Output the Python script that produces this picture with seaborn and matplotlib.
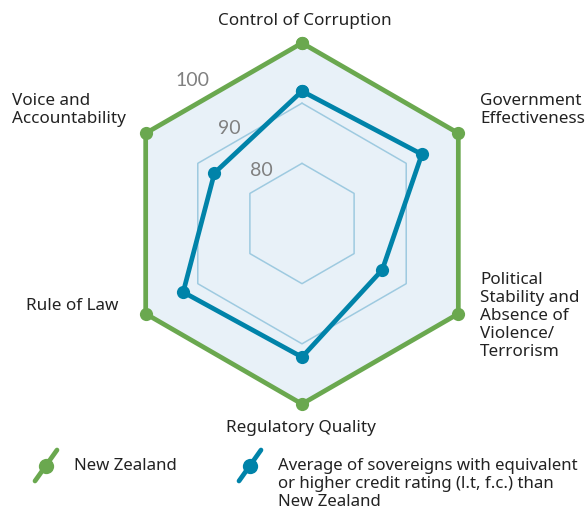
import numpy as np
import pandas as pd
import matplotlib
matplotlib.use("Agg")
import matplotlib.pyplot as plt
import seaborn as sns
from matplotlib.lines import Line2D

# ---- data ----
categories = ["Control of Corruption", "Government\nEffectiveness",
              "Political\nStability and\nAbsence of\nViolence/\nTerrorism",
              "Regulatory Quality", "Rule of Law", "Voice and\nAccountability"]
series_names = ["New Zealand",
                "Average of sovereigns with equivalent\nor higher credit rating (l.t, f.c.) than\nNew Zealand"]
nz_values = [100, 100, 100, 100, 100, 100]
peer_values = [92.0, 93.0, 85.4, 92.2, 92.8, 86.8]
r_ticks = [80, 90, 100]
r_tick_labels = ["80", "90", "100"]
r_min = 70

GREEN = "#6aa84f"
BLUE = "#0083a9"
FILL = "#e8f1f8"
GRID = "#9ecae0"
TEXT = "#222222"

sns.set_theme(style="white")
plt.rcParams["font.family"] = ["Noto Sans", "DejaVu Sans"]

W, H = 587, 513
fig = plt.figure(figsize=(W / 100, H / 100), dpi=100)
cx, cy, R = 302, 223.5, 180.5
ax = fig.add_axes([(cx - R) / W, (H - cy - R) / H, 2 * R / W, 2 * R / H],
                  projection="polar")
ax.set_theta_zero_location("N")
ax.set_theta_direction(-1)

n = len(categories)
theta = np.arange(n) * 2 * np.pi / n
theta_closed = np.append(theta, 2 * np.pi)

# background hexagon (100) and grid hexagons
ax.fill(theta_closed, [r_ticks[-1]] * (n + 1), color=FILL, zorder=0)
for rt in r_ticks[:-1]:
    ax.plot(theta_closed, [rt] * (n + 1), color=GRID, lw=1.1, zorder=1)

rows = []
for name, vals in zip(series_names, [nz_values, peer_values]):
    closed = list(vals) + [vals[0]]
    for i, (t, v) in enumerate(zip(theta_closed, closed)):
        rows.append({"series": name, "theta": t, "value": v, "order": i})
df = pd.DataFrame(rows)

sns.lineplot(data=df, x="theta", y="value", hue="series", sort=False,
             estimator=None, palette=[GREEN, BLUE], marker="o",
             markersize=9.5, markeredgewidth=0, linewidth=3.4, ax=ax,
             legend=False, zorder=3)
for ln in ax.lines:
    ln.set_clip_on(False)

ax.set_ylim(r_min, 100)
ax.grid(False)
ax.spines["polar"].set_visible(False)
ax.set_xticks([])
ax.set_yticks([])
ax.set_xlabel("")
ax.set_ylabel("")
ax.patch.set_alpha(0)

# radial tick labels along the upper-left direction
lab_theta = np.deg2rad(-37.5)
lab_shift = [1.1, -0.1, -0.1]
for rt, lab, sh in zip(r_ticks, r_tick_labels, lab_shift):
    ax.text(lab_theta, rt + sh, lab, ha="center", va="center",
            fontsize=14, color="#808080", family="Lato")


def px(x, y):
    return x / W, 1 - y / H


fs = 12.3
fig.text(*px(305, 21), categories[0], ha="center", va="center", fontsize=fs, color=TEXT)
fig.text(*px(480, 93), categories[1], ha="left", va="top", fontsize=fs, color=TEXT, linespacing=1.17)
fig.text(*px(480, 272), categories[2], ha="left", va="top", fontsize=fs, color=TEXT, linespacing=1.17)
fig.text(*px(301, 428), categories[3], ha="center", va="center", fontsize=fs, color=TEXT)
fig.text(*px(118, 306), categories[4], ha="right", va="center", fontsize=fs, color=TEXT)
fig.text(*px(12, 93), categories[5], ha="left", va="top", fontsize=fs, color=TEXT, linespacing=1.17)

# legend (manual, diagonal handles)
lfs = 12.1
for (hx, tx), name, col in zip([(46, 74), (250, 278)], series_names, [GREEN, BLUE]):
    x0, y0 = px(hx - 11, 481)
    x1, y1 = px(hx + 11, 450)
    fig.add_artist(Line2D([x0, x1], [y0, y1], transform=fig.transFigure,
                          color=col, lw=3.4, solid_capstyle="round"))
    mx, my = px(hx, 465.5)
    fig.add_artist(Line2D([mx], [my], transform=fig.transFigure, color=col,
                          marker="o", markersize=11, markeredgewidth=0))
    fig.text(*px(tx, 458), name, ha="left", va="top", fontsize=lfs,
             color=TEXT, linespacing=1.15)

fig.savefig("out.png", dpi=100)
